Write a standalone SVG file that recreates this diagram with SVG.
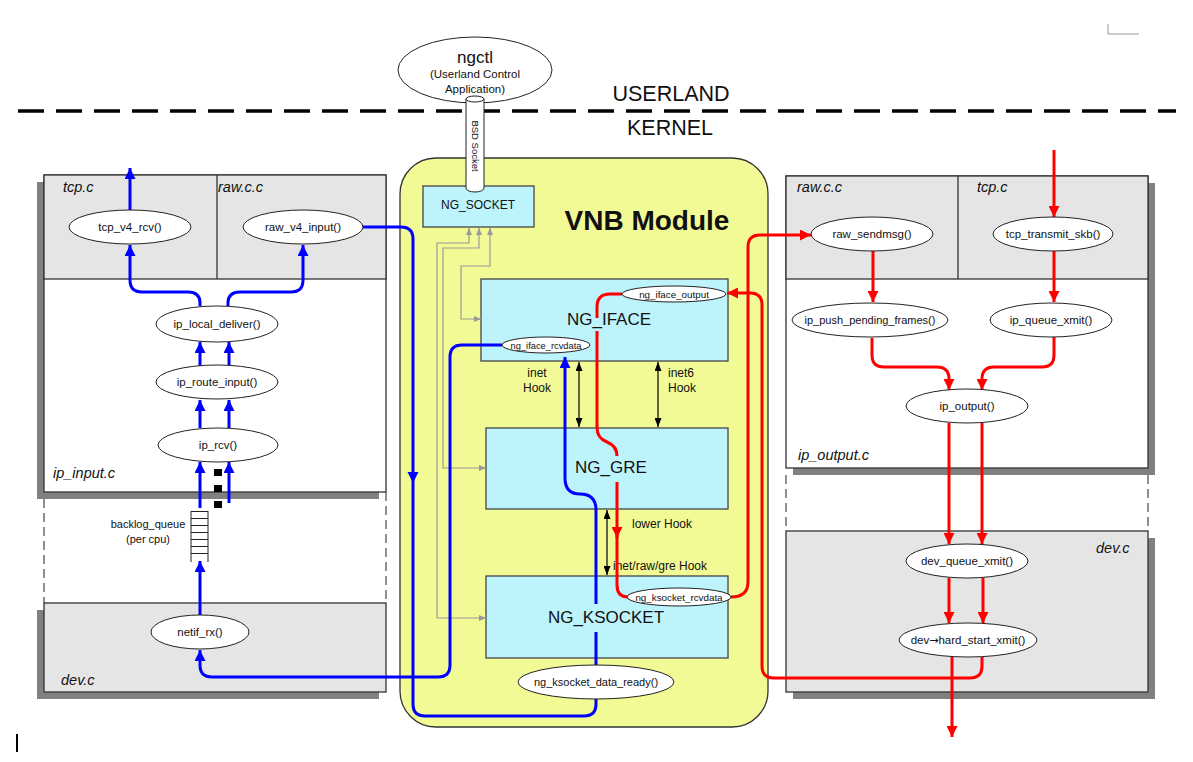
<svg xmlns="http://www.w3.org/2000/svg" width="1193" height="762" viewBox="0 0 1193 762">
<style>
.panel{fill:#e5e5e5;stroke:#333;stroke-width:1.3}
.wpanel{fill:#fff;stroke:#333;stroke-width:1.3}
.shadow{fill:#808080}
.box{fill:#bdf3fb;stroke:#444;stroke-width:1.3}
.fn{fill:#fff;stroke:#222;stroke-width:1}
.t{font-family:"Liberation Sans",Arial,sans-serif;fill:#111}
.fnt{font-size:11.5px;text-anchor:middle}
.sm{font-size:9.8px;text-anchor:middle}
.file{font-size:14.5px;font-style:italic}
.big{font-size:17px;text-anchor:middle}
.hook{font-size:12px}
.blue{fill:none;stroke:#0000ff;stroke-width:3}
.red{fill:none;stroke:#ff0000;stroke-width:3}
.gray{fill:none;stroke:#999;stroke-width:1.2}
.blk{fill:none;stroke:#000;stroke-width:1.2}
.dash{fill:none;stroke:#555;stroke-width:1.3;stroke-dasharray:9 5}
</style>
<defs>
<marker id="ab" markerUnits="userSpaceOnUse" markerWidth="11" markerHeight="11" refX="11" refY="5.5" orient="auto"><path d="M0,0 L11,5.5 L0,11 z" fill="#0000ff"/></marker>
<marker id="ar" markerUnits="userSpaceOnUse" markerWidth="11" markerHeight="11" refX="11" refY="5.5" orient="auto"><path d="M0,0 L11,5.5 L0,11 z" fill="#ff0000"/></marker>
<marker id="ak" markerUnits="userSpaceOnUse" markerWidth="9" markerHeight="7" refX="9" refY="3.5" orient="auto-start-reverse"><path d="M0,0 L9,3.5 L0,7 z" fill="#000"/></marker>
<marker id="ag" markerUnits="userSpaceOnUse" markerWidth="7" markerHeight="6" refX="7" refY="3" orient="auto-start-reverse"><path d="M0,0 L7,3 L0,6 z" fill="#999"/></marker>
</defs>
<rect width="1193" height="762" fill="#fff"/>

<!-- corner marks -->
<path d="M1108,24 V34 H1139" fill="none" stroke="#999" stroke-width="1"/>
<line x1="17" y1="734" x2="17" y2="752" stroke="#000" stroke-width="2"/>

<!-- userland / kernel -->
<line x1="18" y1="111" x2="1176" y2="111" stroke="#000" stroke-width="3.5" stroke-dasharray="26 12"/>
<text class="t" x="671" y="101" font-size="21.5px" text-anchor="middle">USERLAND</text>
<text class="t" x="670" y="135" font-size="21.5px" text-anchor="middle">KERNEL</text>

<!-- left panels -->
<g id="left-upper">
<rect class="shadow" x="37" y="182" width="342" height="317"/>
<rect class="wpanel" x="44" y="175" width="342" height="317"/>
<rect class="panel" x="44" y="175" width="342" height="104"/>
<line x1="217" y1="175" x2="217" y2="279" stroke="#333" stroke-width="1.3"/>
<text class="t file" x="63" y="192">tcp.c</text>
<text class="t file" x="218" y="192">raw.c.c</text>
<text class="t file" x="53" y="478">ip_input.c</text>
</g>
<path class="dash" d="M44,499 V603 M386,492 V603"/>
<g id="left-dev">
<rect class="shadow" x="37" y="610" width="342" height="89"/>
<rect class="panel" x="44" y="603" width="342" height="89"/>
<text class="t file" x="61" y="685">dev.c</text>
</g>

<!-- right panels -->
<g id="right-upper">
<rect class="shadow" x="793" y="183" width="362" height="292"/>
<rect class="wpanel" x="786" y="176" width="362" height="292"/>
<rect class="panel" x="786" y="176" width="362" height="103"/>
<line x1="958" y1="176" x2="958" y2="279" stroke="#333" stroke-width="1.3"/>
<text class="t file" x="797" y="192">raw.c.c</text>
<text class="t file" x="977" y="192">tcp.c</text>
<text class="t file" x="798" y="460">ip_output.c</text>
</g>
<path class="dash" d="M786,475 V531 M1148,475 V531" stroke="#777"/>
<g id="right-dev">
<rect class="shadow" x="793" y="538" width="362" height="161"/>
<rect class="panel" x="786" y="531" width="362" height="161"/>
<text class="t file" x="1096" y="553">dev.c</text>
</g>

<!-- VNB module -->
<g id="vnb">
<rect x="400" y="158" width="368" height="569" rx="36" ry="36" fill="#f2fa96" stroke="#333" stroke-width="1.3"/>
<text class="t" x="647" y="230" font-size="28px" font-weight="bold" text-anchor="middle">VNB Module</text>
</g>
<g id="ng_socket">
<rect class="box" x="423" y="186" width="111" height="41"/>
<text class="t" x="478" y="209" font-size="12px" text-anchor="middle">NG_SOCKET</text>
</g>
<g id="ng_iface">
<rect class="box" x="481" y="279" width="247" height="82"/>
<text class="t big" x="609" y="325">NG_IFACE</text>
</g>
<g id="ng_gre">
<rect class="box" x="486" y="428" width="242" height="81"/>
<text class="t big" x="611" y="473">NG_GRE</text>
</g>
<g id="ng_ksocket">
<rect class="box" x="486" y="576" width="242" height="82"/>
<text class="t big" x="606" y="623">NG_KSOCKET</text>
</g>

<!-- hook labels -->
<text class="t hook" x="537" y="377" text-anchor="middle">inet</text>
<text class="t hook" x="537" y="392" text-anchor="middle">Hook</text>
<text class="t hook" x="668" y="377">inet6</text>
<text class="t hook" x="668" y="392">Hook</text>
<text class="t hook" x="632" y="528">lower Hook</text>
<text class="t hook" x="613" y="570">inet/raw/gre Hook</text>

<!-- backlog queue -->
<g id="backlog_queue">
<path d="M191,511 V562 M208,511 V562 M191,511.5 H208 M191,518.5 H208 M191,525.5 H208 M191,532.5 H208 M191,539.5 H208 M191,546.5 H208 M191,553.5 H208" fill="none" stroke="#222" stroke-width="1"/>
<text class="t" x="148" y="528" font-size="11px" text-anchor="middle">backlog_queue</text>
<text class="t" x="148" y="543" font-size="11px" text-anchor="middle">(per cpu)</text>
</g>
<g id="dots" fill="#000">
<rect x="214" y="469" width="8" height="7"/>
<rect x="214" y="485" width="8" height="7"/>
<rect x="214" y="501" width="8" height="7"/>
</g>

<!-- connectors -->
<g id="connectors">
<path class="gray" d="M469,228 V243 H437 V618 H486" marker-start="url(#ag)" marker-end="url(#ag)"/>
<path class="gray" d="M479,228 V248 H443 V468 H486" marker-start="url(#ag)" marker-end="url(#ag)"/>
<path class="gray" d="M490,228 V266 H461 V319 H481" marker-start="url(#ag)" marker-end="url(#ag)"/>
<path class="blk" d="M579,362 V427" marker-start="url(#ak)" marker-end="url(#ak)"/>
<path class="blk" d="M658,362 V427" marker-start="url(#ak)" marker-end="url(#ak)"/>
<path class="blk" d="M607,510 V575" marker-start="url(#ak)" marker-end="url(#ak)"/>

<path class="blue" d="M130,210 V168" marker-end="url(#ab)"/>
<path class="blue" d="M200,306 V303 Q200,292 188,292 H142 Q130,292 130,280 V245" marker-end="url(#ab)"/>
<path class="blue" d="M228,306 V303 Q228,292 240,292 H291 Q303,292 303,280 V245" marker-end="url(#ab)"/>
<path class="blue" d="M200,366 V342" marker-end="url(#ab)"/>
<path class="blue" d="M229,366 V342" marker-end="url(#ab)"/>
<path class="blue" d="M200,428 V400" marker-end="url(#ab)"/>
<path class="blue" d="M229,428 V400" marker-end="url(#ab)"/>
<path class="blue" d="M200,508 V462" marker-end="url(#ab)"/>
<path class="blue" d="M229,503 V462" marker-end="url(#ab)"/>
<path class="blue" d="M200,615 V561" marker-end="url(#ab)"/>
<path class="blue" d="M502,345 H462 Q450,345 450,357 V665 Q450,677 438,677 H212 Q200,677 200,665 V650" marker-end="url(#ab)"/>
<path class="blue" d="M363,227 H401 Q413,227 413,239 V704 Q413,716 425,716 H584 Q596,716 596,704 V699"/>
<path d="M407.5,472 L418.5,472 L413,483 z" fill="#0000ff"/>
<path class="blue" d="M596,666 V632"/>
<path class="blue" d="M596,604 V510 Q596,494 580,494 Q565,494 565,478 V357" marker-end="url(#ab)"/>

<path class="red" d="M1054,150 V217" marker-end="url(#ar)"/>
<path class="red" d="M1054,251 V302" marker-end="url(#ar)"/>
<path class="red" d="M873,251 V302" marker-end="url(#ar)"/>
<path class="red" d="M872,338 V355 Q872,367 884,367 H937 Q949,367 949,379 V390" marker-end="url(#ar)"/>
<path class="red" d="M1054,337 V355 Q1054,367 1042,367 H994 Q982,367 982,379 V390" marker-end="url(#ar)"/>
<path class="red" d="M949,423 V544" marker-end="url(#ar)"/>
<path class="red" d="M982,423 V544" marker-end="url(#ar)"/>
<path class="red" d="M949,578 V623" marker-end="url(#ar)"/>
<path class="red" d="M983,578 V623" marker-end="url(#ar)"/>
<path class="red" d="M952,657 V737" marker-end="url(#ar)"/>
<path class="red" d="M982,657 V666 Q982,678 970,678 H774 Q762,678 762,666 V305 Q762,293 750,293 H727" marker-end="url(#ar)"/>
<path class="red" d="M731,597 Q748,597 748,582 V247 Q748,235 760,235 H811" marker-end="url(#ar)"/>
<path class="red" d="M622,294 H610 Q597,294 597,307 V318"/>
<path class="red" d="M597,331 V428 Q597,438 607,442 Q617,446 617,456"/>
<path class="red" d="M617,482 V538" marker-end="url(#ar)"/>
<path class="red" d="M617,530 V585 Q617,597 628,597"/>
</g>

<!-- function nodes -->
<g id="tcp_v4_rcv"><ellipse class="fn" cx="130" cy="227" rx="61" ry="17"/><text class="t fnt" x="130" y="231">tcp_v4_rcv()</text></g>
<g id="raw_v4_input"><ellipse class="fn" cx="303" cy="227" rx="60" ry="17"/><text class="t fnt" x="303" y="231">raw_v4_input()</text></g>
<g id="ip_local_deliver"><ellipse class="fn" cx="217" cy="324" rx="61" ry="18"/><text class="t fnt" x="217" y="328">ip_local_deliver()</text></g>
<g id="ip_route_input"><ellipse class="fn" cx="217" cy="382" rx="61" ry="17"/><text class="t fnt" x="217" y="386">ip_route_input()</text></g>
<g id="ip_rcv"><ellipse class="fn" cx="218" cy="445" rx="60" ry="17"/><text class="t fnt" x="218" y="449">ip_rcv()</text></g>
<g id="netif_rx"><ellipse class="fn" cx="200" cy="632" rx="49" ry="17"/><text class="t fnt" x="200" y="636">netif_rx()</text></g>

<g id="raw_sendmsg"><ellipse class="fn" cx="872" cy="234" rx="61" ry="17"/><text class="t fnt" x="872" y="238">raw_sendmsg()</text></g>
<g id="tcp_transmit_skb"><ellipse class="fn" cx="1053" cy="234" rx="60" ry="17"/><text class="t fnt" x="1053" y="238">tcp_transmit_skb()</text></g>
<g id="ip_push_pending_frames"><ellipse class="fn" cx="870" cy="320" rx="78" ry="17"/><text class="t" x="870" y="324" font-size="11px" text-anchor="middle">ip_push_pending_frames()</text></g>
<g id="ip_queue_xmit"><ellipse class="fn" cx="1051" cy="320" rx="61" ry="17"/><text class="t fnt" x="1051" y="324">ip_queue_xmit()</text></g>
<g id="ip_output"><ellipse class="fn" cx="967" cy="406" rx="61" ry="17"/><text class="t fnt" x="967" y="410">ip_output()</text></g>
<g id="dev_queue_xmit"><ellipse class="fn" cx="967" cy="561" rx="61" ry="17"/><text class="t fnt" x="967" y="565">dev_queue_xmit()</text></g>
<g id="dev_hard_start_xmit"><ellipse class="fn" cx="968" cy="640" rx="69" ry="17"/><text class="t fnt" x="968" y="644">dev<tspan font-family="'DejaVu Sans',sans-serif" font-size="11px">→</tspan>hard_start_xmit()</text></g>

<g id="ng_iface_output"><ellipse class="fn" cx="674" cy="294" rx="52" ry="8"/><text class="t sm" x="674" y="297.5">ng_iface_output</text></g>
<g id="ng_iface_rcvdata"><ellipse class="fn" cx="546" cy="345" rx="44" ry="8"/><text class="t" x="546" y="348.5" font-size="9.3px" text-anchor="middle">ng_iface_rcvdata</text></g>
<g id="ng_ksocket_rcvdata"><ellipse class="fn" cx="679" cy="597" rx="52" ry="9"/><text class="t sm" x="679" y="600.5">ng_ksocket_rcvdata</text></g>
<g id="ng_ksocket_data_ready"><ellipse class="fn" cx="596" cy="682" rx="78" ry="17"/><text class="t" x="596" y="686" font-size="11px" text-anchor="middle">ng_ksocket_data_ready()</text></g>

<!-- ngctl + BSD socket -->
<g id="ngctl">
<ellipse class="fn" cx="475" cy="70" rx="77" ry="33"/>
<text class="t" x="475" y="63" font-size="17px" text-anchor="middle">ngctl</text>
<text class="t" x="475" y="78" font-size="11.5px" text-anchor="middle">(Userland Control</text>
<text class="t" x="475" y="93" font-size="11.5px" text-anchor="middle">Application)</text>
</g>
<g id="bsd_socket">
<path d="M466,99 V188 A9,4 0 0 0 484,188 V99" fill="#fff" stroke="#222" stroke-width="1"/>
<ellipse cx="475" cy="99" rx="9" ry="3" fill="#fff" stroke="#222" stroke-width="1"/>
<text class="t" x="475" y="149.3" font-size="9.5px" text-anchor="middle" transform="rotate(90 475 146)">BSD Socket</text>
</g>
</svg>
